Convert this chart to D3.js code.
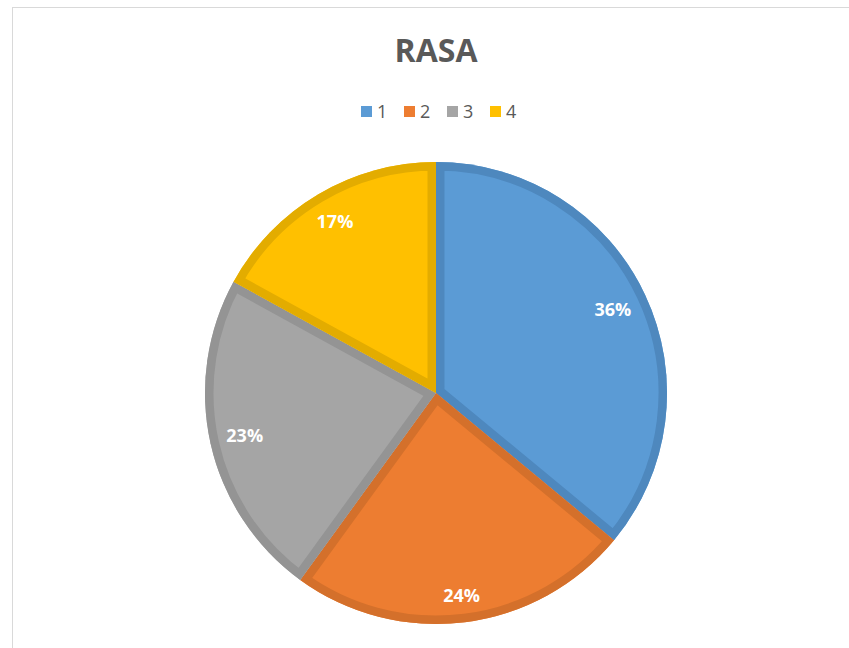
<!DOCTYPE html>
<html>
<head>
<meta charset="utf-8">
<script src="https://cdn.jsdelivr.net/npm/d3@7"></script>
<style>
  body { margin: 0; background: #fff; }
  svg text { font-family: "Open Sans", "Liberation Sans", sans-serif; }
</style>
</head>
<body>
<div id="chart"></div>
<script>
// chart data
const categories = ["1", "2", "3", "4"];
const shares = [36, 24, 23, 17];
const fillColors = ["#5B9BD5", "#ED7D31", "#A5A5A5", "#FFC000"];
const edgeColors = ["#4E88BE", "#D4702B", "#949494", "#E3AC00"];

const width = 849;
const height = 648;
const cx = 436;
const cy = 393;
const radius = 231;

const svg = d3.select("#chart")
  .append("svg")
  .attr("width", width)
  .attr("height", height);

// chart area border
svg.append("rect")
  .attr("x", 12.5)
  .attr("y", 7.5)
  .attr("width", width)
  .attr("height", height)
  .attr("fill", "none")
  .attr("stroke", "#d9d9d9")
  .attr("stroke-width", 1);

// title
svg.append("text")
  .attr("x", cx)
  .attr("y", 62)
  .attr("text-anchor", "middle")
  .attr("font-size", 32)
  .attr("font-weight", "bold")
  .attr("fill", "#595959")
  .text("RASA");

// legend
const legend = svg.append("g").attr("transform", "translate(361,106)");
const items = legend.selectAll("g")
  .data(categories)
  .enter()
  .append("g")
  .attr("transform", (d, i) => "translate(" + i * 43 + ",0)");

items.append("rect")
  .attr("width", 11)
  .attr("height", 11)
  .attr("fill", (d, i) => fillColors[i]);

items.append("text")
  .attr("x", 16)
  .attr("y", 11.5)
  .attr("font-size", 18)
  .attr("fill", "#595959")
  .text((d) => d);

// pie
const pie = d3.pie().sort(null).value((d) => d);
const arcs = pie(shares);
const arc = d3.arc().innerRadius(0).outerRadius(radius);

const g = svg.append("g").attr("transform", "translate(" + cx + "," + cy + ")");
const defs = svg.append("defs");

arcs.forEach((a, i) => {
  defs.append("clipPath")
    .attr("id", "clip-" + i)
    .append("path")
    .attr("d", arc(a));
});

const slices = g.selectAll(".slice")
  .data(arcs)
  .enter()
  .append("g")
  .attr("class", "slice");

slices.append("path")
  .attr("d", arc)
  .attr("fill", (d, i) => fillColors[i]);

// darker inner edge like the original
slices.append("path")
  .attr("d", arc)
  .attr("fill", "none")
  .attr("stroke", (d, i) => edgeColors[i])
  .attr("stroke-width", 17)
  .attr("clip-path", (d, i) => "url(#clip-" + i + ")");

// labels, placed "inside end": pushed out until the text box touches the padded rim
const labels = slices.append("text")
  .attr("text-anchor", "middle")
  .attr("dy", "0.35em")
  .attr("font-size", 18)
  .attr("font-weight", "bold")
  .attr("fill", "#fff")
  .text((d) => d.data + "%");

labels.each(function (d) {
  const box = this.getBBox();
  const hw = box.width / 2;
  const hh = 9;
  const mid = (d.startAngle + d.endAngle) / 2;
  const ux = Math.sin(mid);
  const uy = -Math.cos(mid);
  const limit = radius - 15;
  let t = 0;
  for (let r = 0; r < radius; r += 0.5) {
    const px = r * ux;
    const py = r * uy;
    const far = Math.hypot(Math.abs(px) + hw, Math.abs(py) + hh);
    if (far > limit) break;
    t = r;
  }
  d3.select(this).attr("transform", "translate(" + t * ux + "," + t * uy + ")");
});
</script>
</body>
</html>
